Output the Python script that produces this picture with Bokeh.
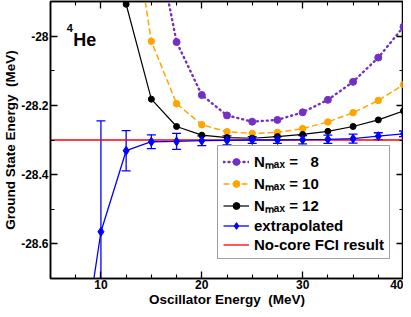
from bokeh.plotting import figure
from bokeh.models import (LinearAxis, FixedTicker, CustomJSTickFormatter, Whisker, TeeHead,
                          ColumnDataSource, Legend, LegendItem, Label, Range1d)
from bokeh.embed import file_html
from bokeh.resources import INLINE

# ---- data ----
hw = [10, 12.5, 15, 17.5, 20, 22.5, 25, 27.5, 30, 32.5, 35, 37.5, 40]
nmax8 = [-26.8, -27.3, -27.65, -28.017, -28.170, -28.229, -28.247, -28.242, -28.220, -28.184, -28.132, -28.062, -27.973]
nmax10 = [-27.0, -27.54, -28.015, -28.195, -28.256, -28.276, -28.281, -28.278, -28.267, -28.248, -28.221, -28.186, -28.140]
nmax12 = [-27.3, -27.908, -28.182, -28.261, -28.286, -28.293, -28.295, -28.290, -28.284, -28.275, -28.261, -28.242, -28.216]
hw_ext = [7.5, 10, 12.5, 15, 17.5, 20, 22.5, 25, 27.5, 30, 32.5, 35, 37.5, 40]
extrap = [-29.05, -28.565, -28.331, -28.305, -28.304, -28.302, -28.301, -28.300, -28.300, -28.299, -28.298, -28.296, -28.289, -28.282]
extrap_err = [0.30, 0.32, 0.058, 0.020, 0.023, 0.014, 0.013, 0.010, 0.010, 0.012, 0.012, 0.013, 0.010, 0.008]
fci_value = -28.300
x_start, x_end = 5, 40
y_start, y_end = -28.7, -27.9
x_major = [10, 20, 30, 40]
x_minor = [5, 7.5, 12.5, 15, 17.5, 22.5, 25, 27.5, 32.5, 35, 37.5]
y_major = [-28.6, -28.4, -28.2, -28.0]
y_minor = [-28.7, -28.5, -28.3, -28.1, -27.9]
x_title = "Oscillator Energy\u00a0 (MeV)"
y_title = "Ground State Energy\u00a0 (MeV)"
labels = ["N\u2098\u2090\u2093 = \u20078", "N\u2098\u2090\u2093 = 10", "N\u2098\u2090\u2093 = 12",
          "extrapolated", "No-core FCI result"]

FONT = "Liberation Sans"
PURPLE = "#7430C4"
ORANGE = "#FFA500"
BLUE = "#0000FF"
RED = "#FF0000"

p = figure(width=403, height=309, output_backend="svg", toolbar_location=None,
           x_range=Range1d(x_start, x_end), y_range=Range1d(y_start, y_end),
           x_axis_location=None, y_axis_location=None,
           min_border_left=41, min_border_right=0, min_border_top=1, min_border_bottom=26)
p.xgrid.visible = False
p.ygrid.visible = False
p.outline_line_color = "black"
p.outline_line_width = 1.5
p.background_fill_color = "white"

yfmt = CustomJSTickFormatter(code="return String(Number(tick.toFixed(1)));")
blank = CustomJSTickFormatter(code="return '';")

def style_axis(ax):
    ax.major_tick_in = 7
    ax.major_tick_out = 0
    ax.minor_tick_in = 4
    ax.minor_tick_out = 0
    ax.axis_line_width = 1.5
    ax.major_tick_line_width = 1.3
    ax.minor_tick_line_width = 1.1
    ax.major_label_text_font = FONT
    ax.major_label_text_font_style = "bold"
    ax.major_label_text_font_size = "12px"
    ax.major_label_text_color = "black"
    ax.major_label_standoff = 0
    ax.axis_label_text_font = FONT
    ax.axis_label_text_font_style = "bold"
    ax.axis_label_text_font_size = "13.5px"
    ax.axis_label_text_color = "black"
    ax.axis_label_standoff = 0

xb = LinearAxis(ticker=FixedTicker(ticks=x_major, minor_ticks=x_minor), axis_label=x_title)
style_axis(xb)
xb.major_label_standoff = 1
p.add_layout(xb, "below")
xt = LinearAxis(ticker=FixedTicker(ticks=x_major, minor_ticks=x_minor), formatter=blank)
style_axis(xt)
p.add_layout(xt, "above")
yl = LinearAxis(ticker=FixedTicker(ticks=y_major, minor_ticks=y_minor), formatter=yfmt,
                axis_label=y_title)
style_axis(yl)
yl.major_label_standoff = 2
p.add_layout(yl, "left")
yr = LinearAxis(ticker=FixedTicker(ticks=y_major, minor_ticks=y_minor), formatter=blank)
style_axis(yr)
p.add_layout(yr, "right")

# red reference line
fci_r = p.line([x_start, x_end], [fci_value, fci_value], line_color=RED, line_width=1.3)

# Nmax series
l8 = p.line(hw, nmax8, line_color=PURPLE, line_width=2.4, line_dash="1 4", line_cap="round")
s8 = p.scatter(hw, nmax8, marker="circle", size=7, fill_color=PURPLE, line_color=PURPLE)
l10 = p.line(hw, nmax10, line_color=ORANGE, line_width=1.5, line_dash="6 3")
s10 = p.scatter(hw, nmax10, marker="circle", size=6.5, fill_color=ORANGE, line_color=ORANGE)
l12 = p.line(hw, nmax12, line_color="black", line_width=1.2)
s12 = p.scatter(hw, nmax12, marker="circle", size=6, fill_color="black", line_color="black")

# extrapolated with error bars
src = ColumnDataSource(dict(x=hw_ext, y=extrap,
                            upper=[v + e for v, e in zip(extrap, extrap_err)],
                            lower=[v - e for v, e in zip(extrap, extrap_err)]))
wh = Whisker(source=src, base="x", upper="upper", lower="lower", line_color=BLUE, line_width=1.3,
             upper_head=TeeHead(size=9, line_color=BLUE, line_width=1.3),
             lower_head=TeeHead(size=9, line_color=BLUE, line_width=1.3))
p.add_layout(wh)
le = p.line("x", "y", source=src, line_color=BLUE, line_width=1.3)
se = p.scatter("x", "y", source=src, marker="diamond", size=9, fill_color=BLUE, line_color=BLUE)

legend = Legend(items=[
    LegendItem(label=labels[0], renderers=[l8, s8]),
    LegendItem(label=labels[1], renderers=[l10, s10]),
    LegendItem(label=labels[2], renderers=[l12, s12]),
    LegendItem(label=labels[3], renderers=[le, se]),
    LegendItem(label=labels[4], renderers=[fci_r]),
], location="bottom_right")
legend.label_text_font = FONT
legend.label_text_font_style = "bold"
legend.label_text_font_size = "15px"
legend.label_text_color = "black"
legend.glyph_width = 26
legend.glyph_height = 17
legend.label_height = 17
legend.spacing = 2
legend.padding = 5
legend.margin = 0
legend.label_standoff = 5
legend.border_line_color = "#444444"
legend.border_line_width = 1
legend.background_fill_color = "white"
legend.background_fill_alpha = 1
legend.location = (167, 19)
p.add_layout(legend, "center")

# 4He label
p.add_layout(Label(x=7.25, y=-28.01, text="He", text_font=FONT, text_font_style="bold",
                   text_font_size="18px", text_color="black", text_baseline="alphabetic"))
p.add_layout(Label(x=6.6, y=-27.965, text="4", text_font=FONT, text_font_style="bold",
                   text_font_size="11px", text_color="black", text_baseline="top"))

open("out.html", "w").write(file_html(p, INLINE))
